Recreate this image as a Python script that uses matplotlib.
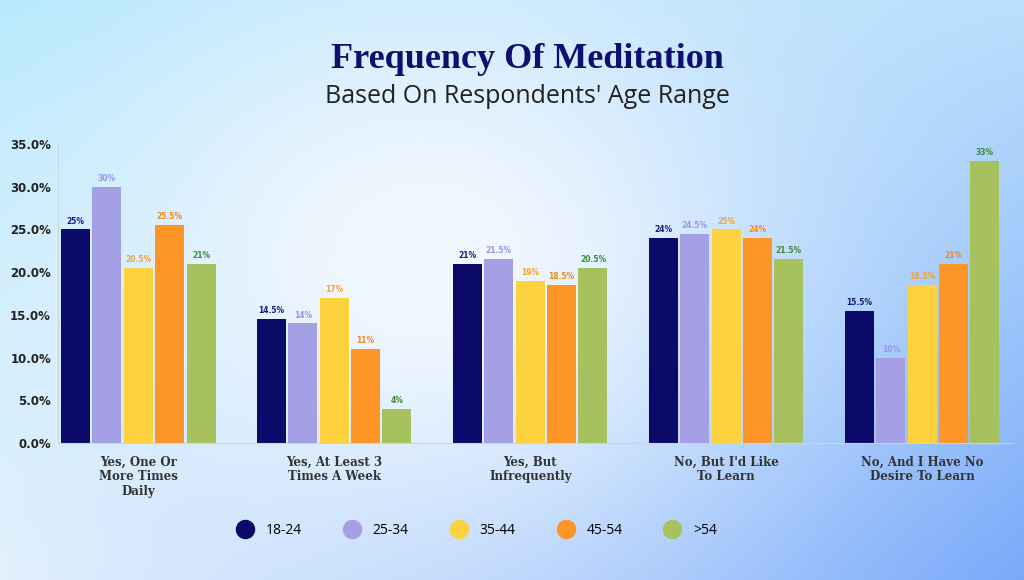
import matplotlib.pyplot as plt
from matplotlib.lines import Line2D
import numpy as np

categories = ['Yes, One Or\nMore Times\nDaily', 'Yes, At Least 3\nTimes A Week',
              'Yes, But\nInfrequently', "No, But I'd Like\nTo Learn",
              'No, And I Have No\nDesire To Learn']
age_groups = ['18-24', '25-34', '35-44', '45-54', '>54']
v_18_24 = [25, 14.5, 21, 24, 15.5]
v_25_34 = [30, 14, 21.5, 24.5, 10]
v_35_44 = [20.5, 17, 19, 25, 18.5]
v_45_54 = [25.5, 11, 18.5, 24, 21]
v_54up = [21, 4, 20.5, 21.5, 33]
series = [v_18_24, v_25_34, v_35_44, v_45_54, v_54up]

bar_colors = ['#0b0a6b', '#a59fe6', '#fdd23e', '#fd9527', '#a8c15f']
label_colors = ['#1a1a7a', '#9d93ea', '#f2a23a', '#f08a20', '#3f8a3f']

fig = plt.figure(figsize=(10.24, 5.8), dpi=100)

# background gradient
H, W = 290, 512
yy, xx = np.mgrid[0:1:H*1j, 0:1:W*1j]
tl = np.array([178, 232, 253]) / 255
tr = np.array([186, 222, 252]) / 255
bl = np.array([225, 240, 252]) / 255
br = np.array([120, 168, 250]) / 255
base = ((1-xx)[..., None]*(1-yy)[..., None]*tl + xx[..., None]*(1-yy)[..., None]*tr
        + (1-xx)[..., None]*yy[..., None]*bl + xx[..., None]*yy[..., None]*br)
w = np.exp(-((xx-0.42)**2/0.12 + (yy-0.45)**2/0.25))[..., None]
img = base*(1-w) + np.array([242, 248, 255])/255*w
bg = fig.add_axes([0, 0, 1, 1])
bg.imshow(img, aspect='auto', extent=(0, 1, 0, 1))
bg.axis('off')

fig.text(0.515, 0.898, 'Frequency Of Meditation', ha='center', va='center',
         fontsize=26, fontweight='bold', family='Liberation Serif', color='#0f0f70')
fig.text(0.515, 0.833, "Based On Respondents' Age Range", ha='center', va='center',
         fontsize=18, family='Open Sans', color='#222222')

ax = fig.add_axes([0.0566, 0.236, 0.932, 0.516])
ax.patch.set_alpha(0)
x = np.arange(len(categories))
step = 0.16
width = 0.148
for k in range(len(series)):
    pos = x + (k - 2)*step
    ax.bar(pos, series[k], width=width, color=bar_colors[k], zorder=2)
    for p, v in zip(pos, series[k]):
        ax.text(p, v + 0.45, ('%g' % v) + '%', ha='center', va='bottom',
                fontsize=5.5, fontweight='bold', color=label_colors[k])

ax.set_xlim(-0.41, 4.46)
ax.set_ylim(0, 35)
ax.set_yticks(np.arange(0, 35.1, 5))
ax.set_yticklabels(['%.1f%%' % t for t in np.arange(0, 35.1, 5)], fontsize=8.5,
                   fontweight='bold', color='#222222')
ax.set_xticks(x)
ax.set_xticklabels(categories, fontsize=8.5, fontweight='bold', family='DejaVu Serif',
                   color='#333333', linespacing=1.15)
ax.tick_params(axis='both', length=0)
ax.tick_params(axis='x', pad=9)
ax.tick_params(axis='y', pad=5)
for s in ['top', 'right']:
    ax.spines[s].set_visible(False)
ax.spines['left'].set_color('#c8d4e0')
ax.spines['bottom'].set_color('#c8d4e0')

handles = [Line2D([], [], marker='o', linestyle='none', markersize=13,
                  markerfacecolor=c, markeredgecolor=c) for c in bar_colors]
fig.legend(handles, age_groups, loc='center', bbox_to_anchor=(0.463, 0.085), ncol=5,
           frameon=False, columnspacing=2.6, handletextpad=0.5,
           prop={'family': 'Open Sans', 'size': 10})

fig.savefig('out.png', dpi=100)
